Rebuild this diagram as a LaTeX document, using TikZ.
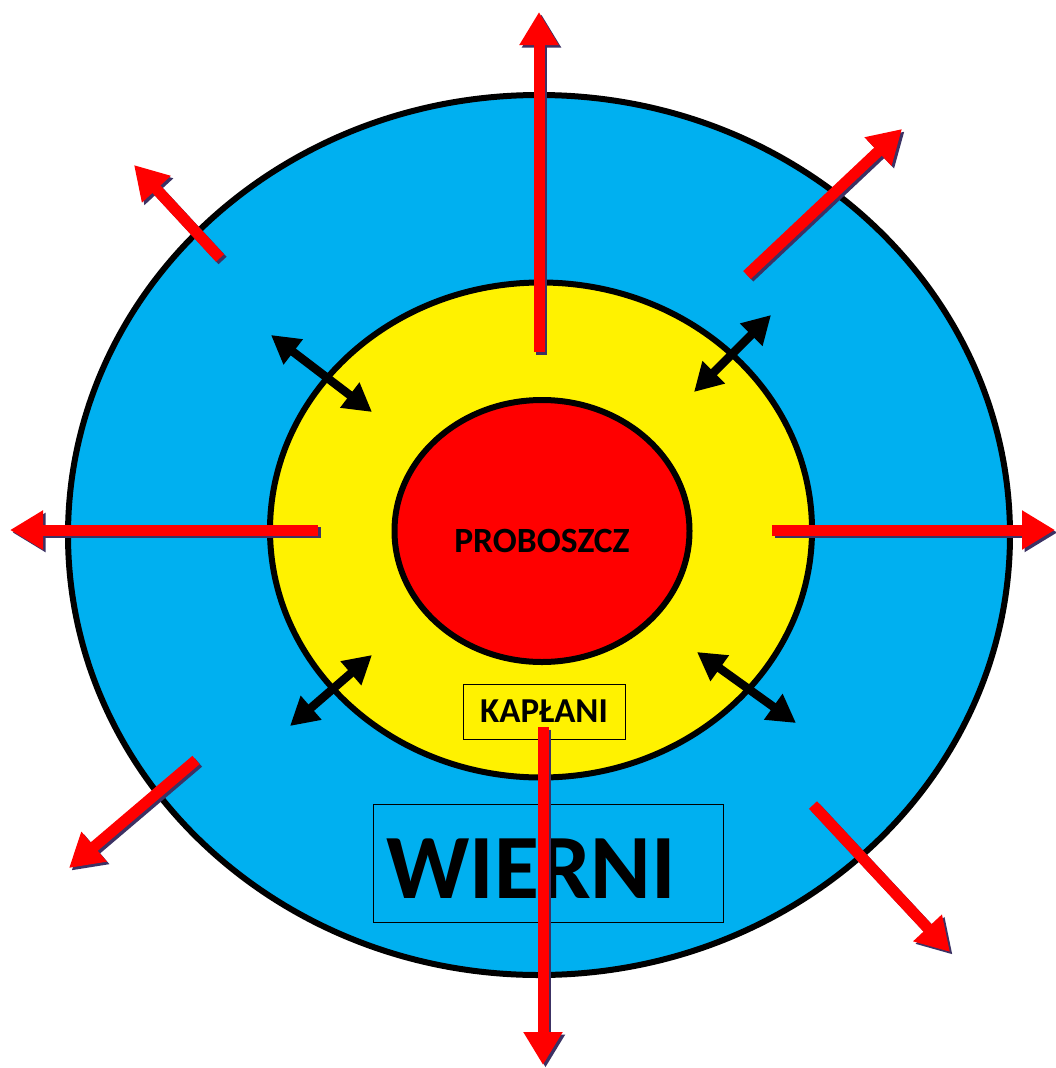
\documentclass[tikz,border=0pt]{standalone}
\usepackage{fontspec}
\setmainfont{Carlito}
\usetikzlibrary{arrows.meta,shapes.geometric}
\definecolor{skyblue}{HTML}{00B0F0}
\definecolor{shadowc}{HTML}{3C3264}
\begin{document}
\begin{tikzpicture}[x=1pt,y=-1pt,
  redarrow/.style={draw=red, line width=11pt, -{Triangle[length=33pt,width=37pt]}},
  shadowarrow/.style={draw=shadowc, line width=11pt, -{Triangle[length=33pt,width=37pt]}},
  dblarrow/.style={draw=black, line width=8.5pt, {Triangle[length=28pt,width=30pt]}-{Triangle[length=28pt,width=30pt]}},
  ring/.style={draw=black, line width=6pt, shape=ellipse, inner sep=0},
  labelbox/.style={draw=black, line width=0.8pt, font=\bfseries}
]
\useasboundingbox (0,0) rectangle (1056,1068);
% circles
\node[ring, fill=skyblue, minimum width=942, minimum height=880] (outer) at (539,535) {};
\node[ring, fill=yellow, minimum width=542, minimum height=495] (middle) at (541,530) {};
\node[ring, fill=red, minimum width=295, minimum height=262] (inner) at (542,531) {};
\node[font=\fontsize{35.5}{38}\selectfont\bfseries] (proboszcz) at (542,541) {PROBOSZCZ};
% label boxes
\node[labelbox, minimum width=162, minimum height=55, inner sep=0, font=\fontsize{35}{37}\selectfont\bfseries] (kaplani) at (544,711.5) {\raisebox{-3pt}{KAPŁANI}};
\node[labelbox, minimum width=350, minimum height=118, inner sep=0] (wierni) at (548,863) {};
\node[anchor=base west, inner sep=0, font=\fontsize{92}{94}\selectfont\bfseries] (wiernitext) at (386,898) {WIERNI};
% coordinates for red arrows
\coordinate (nS) at (539,352); \coordinate (nT) at (539,12);
\coordinate (sS) at (543,727); \coordinate (sT) at (543,1065);
\coordinate (wS) at (318,530); \coordinate (wT) at (10,530);
\coordinate (eS) at (772,530); \coordinate (eT) at (1055,530);
\coordinate (nwS) at (220,258); \coordinate (nwT) at (134,165);
\coordinate (neS) at (747,275); \coordinate (neT) at (902,129);
\coordinate (swS) at (196,760); \coordinate (swT) at (69,868);
\coordinate (seS) at (813,805); \coordinate (seT) at (950,952);
% shadows
\foreach \d in {n,s,w,e,nw,ne,sw,se}{
  \draw[shadowarrow, transform canvas={shift={(2.5pt,-2.5pt)}}] (\d S) -- (\d T);
}
\foreach \d in {n,s,w,e,nw,ne,sw,se}{
  \draw[redarrow] (\d S) -- (\d T);
}
% black double arrows
\coordinate (a1) at (271,335); \coordinate (b1) at (372,412);
\coordinate (a2) at (771,315); \coordinate (b2) at (694,392);
\coordinate (a3) at (372,655); \coordinate (b3) at (290,726);
\coordinate (a4) at (697,652); \coordinate (b4) at (796,723);
\foreach \i in {1,2,3,4}{
  \draw[dblarrow] (a\i) -- (b\i);
}
\end{tikzpicture}
\end{document}
